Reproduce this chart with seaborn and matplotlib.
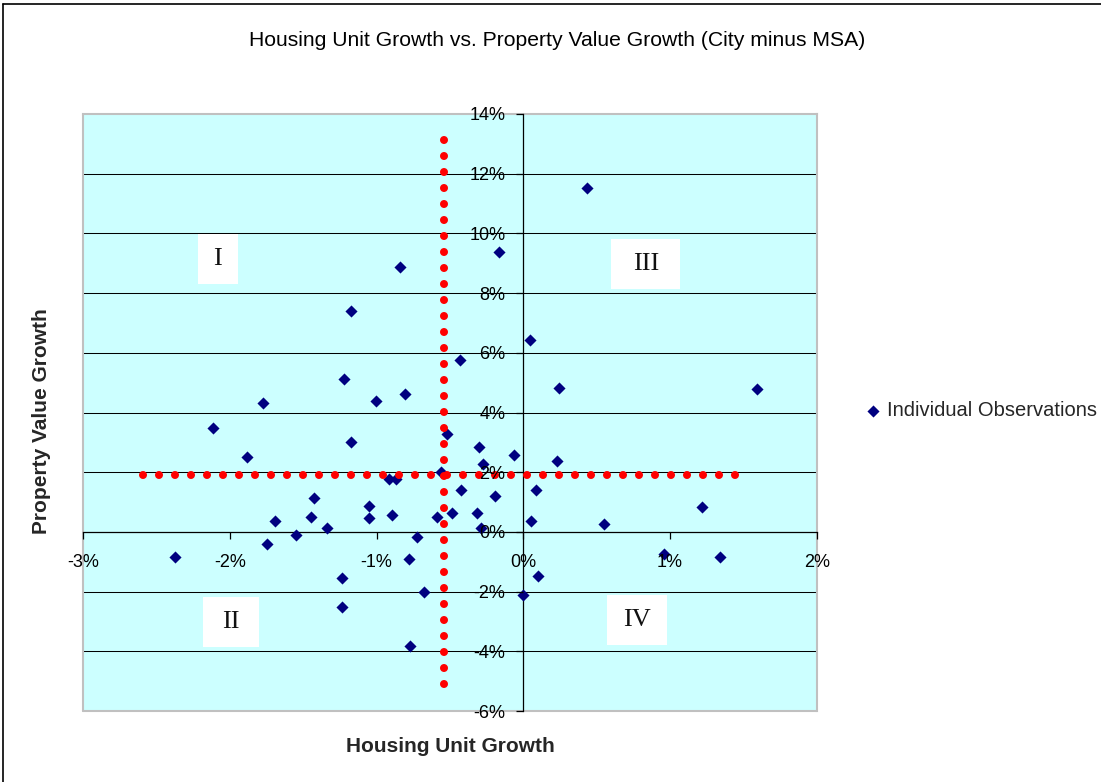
import matplotlib
matplotlib.use("Agg")
import matplotlib.pyplot as plt
from matplotlib.lines import Line2D
from matplotlib.patches import Rectangle
import pandas as pd
import seaborn as sns

# City-minus-MSA growth differentials, in percent
housing_growth = [
    -0.839, -1.173, -1.220, -0.805, -1.004, -1.778, 0.435, -0.167, -0.433, 0.043,
    0.245, 1.590, -2.118, -1.886, -1.173, -0.521, -0.562, -0.918, -0.868, -1.429,
    -1.050, -1.050, -0.895, -0.592, -0.483, -1.451, -1.696, -1.340, -1.551, -1.750,
    -0.725, -2.376, -0.782, -1.238, -0.680, -1.238, -0.771, -0.301, -0.276, -0.065,
    -0.424, -0.190, 0.084, 0.231, -0.313, -0.290, 0.054, 0.547, 1.218, 0.962,
    1.343, 0.100, 0.000,
]
value_growth = [
    8.88, 7.40, 5.11, 4.61, 4.39, 4.32, 11.53, 9.38, 5.75, 6.42,
    4.83, 4.78, 3.47, 2.51, 3.02, 3.27, 1.99, 1.76, 1.76, 1.14,
    0.86, 0.46, 0.58, 0.51, 0.63, 0.51, 0.35, 0.12, -0.11, -0.41,
    -0.16, -0.85, -0.90, -1.53, -2.00, -2.50, -3.82, 2.85, 2.29, 2.57,
    1.41, 1.21, 1.41, 2.38, 0.63, 0.14, 0.36, 0.28, 0.85, -0.73,
    -0.85, -1.47, -2.11,
]
series_name = "Individual Observations"

x_ticks = [-3, -2, -1, 0, 1, 2]
x_tick_labels = ["-3%", "-2%", "-1%", "0%", "1%", "2%"]
y_ticks = [-6, -4, -2, 0, 2, 4, 6, 8, 10, 12, 14]
y_tick_labels = ["-6%", "-4%", "-2%", "0%", "2%", "4%", "6%", "8%", "10%", "12%", "14%"]
grid_levels = [-4, -2, 2, 4, 6, 8, 10, 12]

# Dotted quadrant dividers
split_x = -0.544
split_y = 1.90
h_span = [-2.592, 1.436]
v_span = [13.12, -5.10]

quad_names = ["I", "II", "III", "IV"]
quad_x = [-2.084, -1.995, 0.835, 0.773]
quad_y = [9.13, -3.01, 8.98, -2.94]

df = pd.DataFrame({"housing": housing_growth, "value": value_growth})

sns.set_style("white")
plt.rcParams["font.family"] = ["Liberation Sans", "DejaVu Sans"]
plt.rcParams["axes.unicode_minus"] = False

W, H = 1101, 782
fig = plt.figure(figsize=(W / 100, H / 100), dpi=100)
fig.patch.set_facecolor("white")
ax = fig.add_axes([83.3 / W, 1 - 711 / H, (816.7 - 83.3) / W, (711 - 114) / H])
ax.set_facecolor("#CCFFFF")

ax.set_xlim(-3, 2)
ax.set_ylim(-6, 14)

# horizontal gridlines
ax.hlines(grid_levels, -3, 2, colors="black", linewidth=0.75, zorder=1)

sns.scatterplot(data=df, x="housing", y="value", marker="D", color="#000080",
                s=38, linewidth=0, label=series_name, ax=ax, zorder=3)

# round dots every 16 px (11.52 pt) with an 8 px diameter
dot_lw = 5.8
dot_style = dict(color="#FF0000", linewidth=dot_lw,
                 linestyle=(0, (0.001, 11.52 / dot_lw - 0.001)),
                 dash_capstyle="round", solid_capstyle="round", zorder=4)
ax.plot([h_span[0], h_span[1] + 0.05], [split_y, split_y], **dot_style)
ax.plot([split_x, split_x], [v_span[0], v_span[1] - 0.25], **dot_style)

# quadrant labels in white boxes
box_w_px = [40, 56, 69, 60]
box_h_px = 50
px_x = (816.7 - 83.3) / 5.0
px_y = (711 - 114) / 20.0
for name, qx, qy, bw in zip(quad_names, quad_x, quad_y, box_w_px):
    w = bw / px_x
    h = box_h_px / px_y
    ax.add_patch(Rectangle((qx - w / 2, qy - h / 2), w, h, facecolor="white",
                           edgecolor="none", zorder=2.5))
    ax.text(qx, qy, name, ha="center", va="center", fontsize=19,
            family=["Liberation Serif", "DejaVu Serif"], color="#111111", zorder=2.6)

# axes crossing at zero
for side in ["left", "bottom"]:
    ax.spines[side].set_position(("data", 0))
    ax.spines[side].set_color("black")
    ax.spines[side].set_linewidth(0.9)
    ax.spines[side].set_zorder(2.7)
for side in ["top", "right"]:
    ax.spines[side].set_color("#C0C0C0")
    ax.spines[side].set_linewidth(1.5)
ax.plot([0, 0], [0, 1], transform=ax.transAxes, color="#C0C0C0", lw=1.5, clip_on=False, zorder=2)
ax.plot([0, 1], [0, 0], transform=ax.transAxes, color="#C0C0C0", lw=1.5, clip_on=False, zorder=2)

ax.set_xticks(x_ticks)
ax.set_xticklabels(x_tick_labels)
ax.set_yticks(y_ticks)
ax.set_yticklabels(y_tick_labels)
ax.tick_params(axis="x", direction="out", length=4.8, width=0.9, pad=11,
               labelsize=13, colors="black", bottom=True)
ax.tick_params(axis="y", direction="out", length=4.8, width=0.9, pad=8,
               labelsize=13, colors="black", left=True)
ax.xaxis.set_zorder(5)
ax.yaxis.set_zorder(5)

ax.set_xlabel("Housing Unit Growth", fontsize=15, fontweight="bold")
ax.set_ylabel("Property Value Growth", fontsize=15, fontweight="bold")
ax.xaxis.set_label_coords(0.5, (711 - 746) / 597)
ax.yaxis.set_label_coords((42 - 83.3) / 733.4, (711 - 421) / 597)
ax.xaxis.label.set_va("center")
ax.yaxis.label.set_va("center")

fig.text(557 / W, 1 - 40 / H, "Housing Unit Growth vs. Property Value Growth (City minus MSA)",
         ha="center", va="center", fontsize=15.2, color="black")

ax.legend(loc="center left", bbox_to_anchor=(863 / W, 1 - 411 / H),
          bbox_transform=fig.transFigure, frameon=False, fontsize=14.5,
          handletextpad=0.2, handlelength=1.0, borderpad=0, borderaxespad=0)

# chart frame
fig.add_artist(Line2D([3 / W, 3 / W], [0, 1 - 4 / H], transform=fig.transFigure,
                      color="black", lw=1.2))
fig.add_artist(Line2D([3 / W, 1], [1 - 4 / H, 1 - 4 / H], transform=fig.transFigure,
                      color="black", lw=1.2))

fig.savefig("out.png", dpi=100)
